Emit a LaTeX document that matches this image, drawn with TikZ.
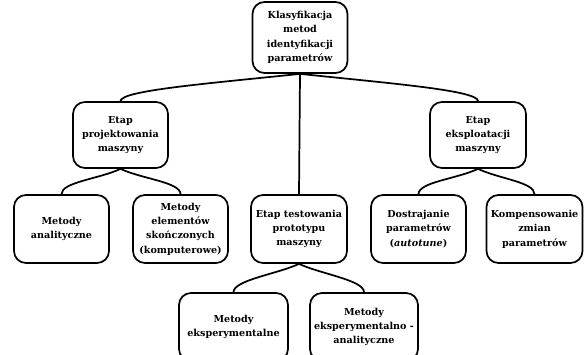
\documentclass[tikz,border=0pt]{standalone}
\usepackage{fontspec}
\setmainfont{DejaVu Serif}
\begin{document}
\begin{tikzpicture}[x=0.75pt,y=-0.75pt,
  box/.style={draw, line width=1.3pt, rounded corners=9pt, align=center,
    font=\fontsize{7.2}{10.8}\selectfont\bfseries, inner sep=0pt},
  lvtwo/.style={box, minimum height=49.5pt},
  lvthree/.style={box, minimum height=51pt},
  lvfour/.style={box, minimum height=51pt},
  conn/.style={line width=1.3pt},
  bigbranch/.style={conn, out distance=70pt, in distance=8pt},
  branch/.style={conn, out distance=18pt, in distance=9pt}]
\useasboundingbox (0,0) rectangle (584,354);
\node[box, minimum width=71.25pt, minimum height=53.25pt] (top) at (300,37.5)
  {Klasyfikacja\\metod\\identyfikacji\\parametrów};
\node[lvtwo, minimum width=71.25pt] (proj) at (120.5,135) {Etap\\projektowania\\maszyny};
\node[lvtwo, minimum width=72pt] (eksp) at (478,135) {Etap\\eksploatacji\\maszyny};
\node[lvthree, minimum width=71.25pt] (anal) at (61.5,229) {Metody\\analityczne};
\node[lvthree, minimum width=71.25pt] (elem) at (180.5,229) {Metody\\elementów\\skończonych\\(komputerowe)};
\node[lvthree, minimum width=72pt] (test) at (299,229) {Etap testowania\\prototypu\\maszyny};
\node[lvthree, minimum width=71.25pt] (dost) at (418.5,229) {Dostrajanie\\parametrów\\(\textit{autotune})};
\node[lvthree, minimum width=72pt] (komp) at (534.5,229) {Kompensowanie\\zmian\\parametrów};
\node[lvfour, minimum width=81.75pt] (ekspm) at (233.5,327) {Metody\\eksperymentalne};
\node[lvfour, minimum width=81pt] (ekspa) at (364,327) {Metody\\eksperymentalno -\\analityczne};
\draw[bigbranch] (top.south) to[out=186,in=90] (proj.north);
\draw[bigbranch] (top.south) to[out=-6,in=90] (eksp.north);
\draw[conn] (top.south) -- (test.north);
\draw[branch] (proj.south) to[out=205,in=90] (anal.north);
\draw[branch] (proj.south) to[out=-25,in=90] (elem.north);
\draw[branch] (eksp.south) to[out=205,in=90] (dost.north);
\draw[branch] (eksp.south) to[out=-25,in=90] (komp.north);
\draw[branch] (test.south) to[out=205,in=90] (ekspm.north);
\draw[branch] (test.south) to[out=-25,in=90] (ekspa.north);
\end{tikzpicture}
\end{document}
